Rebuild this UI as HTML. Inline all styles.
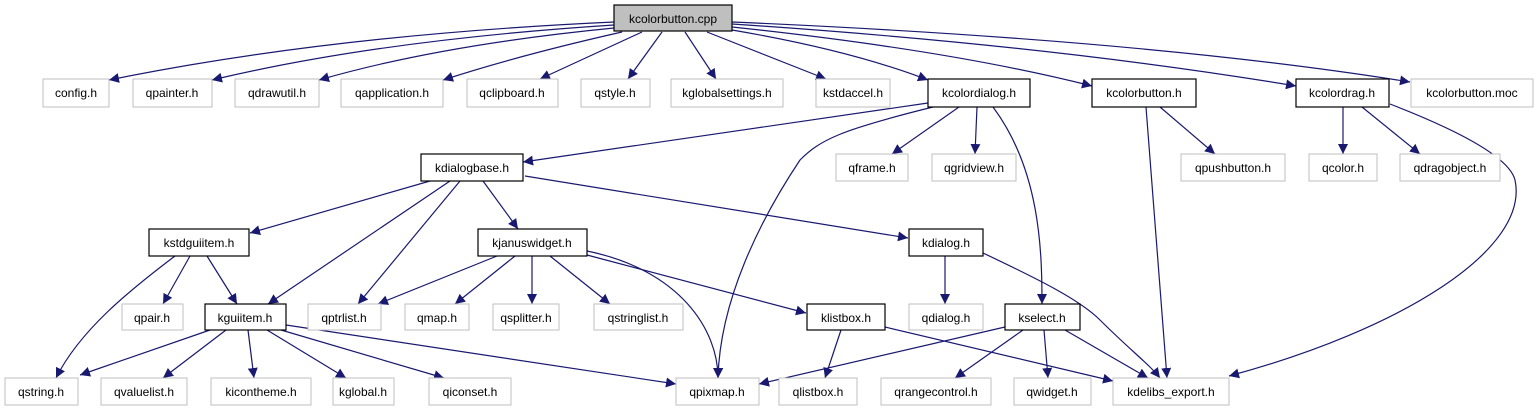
<!DOCTYPE html>
<html><head><meta charset="utf-8"><style>
html,body{margin:0;padding:0;background:#fff;}
svg text{font-family:"Liberation Sans",sans-serif;font-size:12px;fill:#000;}
</style></head><body>
<svg width="1537" height="411" viewBox="0 0 1537 411" xmlns="http://www.w3.org/2000/svg">
<defs>
<marker id="a" viewBox="0 0 10 10" refX="10" refY="5" markerWidth="10" markerHeight="10" markerUnits="userSpaceOnUse" orient="auto">
<path d="M0,0 L10,5 L0,10 z" fill="#191970"/>
</marker>
</defs>
<g fill="none" stroke="#191970" stroke-width="1.2" marker-end="url(#a)">
<path d="M614,22 Q330,35 109,80"/>
<path d="M614,25 Q380,40 212,80"/>
<path d="M614,28 Q440,45 319,80"/>
<path d="M622,32 Q520,55 443,80"/>
<path d="M642,32 L540,79"/>
<path d="M662,32 L628,79"/>
<path d="M685,32 L716,79"/>
<path d="M707,32 L826,79"/>
<path d="M732,30 Q850,50 928,80"/>
<path d="M732,27 Q950,50 1092,86"/>
<path d="M732,24 Q1050,45 1296,86"/>
<path d="M732,22 Q1150,40 1410,82"/>
<path d="M928,103 L523,162"/>
<path d="M933,107 C840,130 820,140 800,160 C760,220 720,300 718,378"/>
<path d="M959,107 L892,154"/>
<path d="M977,107 L975,154"/>
<path d="M993,107 C1040,170 1042,250 1042,304"/>
<path d="M1160,107 L1215,154"/>
<path d="M1146,107 L1167,378"/>
<path d="M1343,107 L1343,154"/>
<path d="M1362,107 L1420,154"/>
<path d="M1390,104 C1470,135 1510,160 1515,180 C1530,250 1400,330 1229,376"/>
<path d="M430,181 L250,233"/>
<path d="M450,181 L268,304"/>
<path d="M460,181 L358,304"/>
<path d="M483,181 L518,229"/>
<path d="M525,176 L908,238"/>
<path d="M175,256 C130,290 80,330 56,378"/>
<path d="M190,256 L163,304"/>
<path d="M207,256 L237,304"/>
<path d="M497,256 L378,304"/>
<path d="M515,256 L455,304"/>
<path d="M532,256 L532,304"/>
<path d="M550,256 L610,304"/>
<path d="M587,251 C680,270 718,330 718,378"/>
<path d="M587,255 L806,313"/>
<path d="M945,256 L945,304"/>
<path d="M983,253 C1040,280 1080,300 1100,320 C1130,350 1150,365 1160,378"/>
<path d="M210,330 L80,375"/>
<path d="M226,330 L163,378"/>
<path d="M248,330 L254,378"/>
<path d="M267,330 L346,378"/>
<path d="M281,330 L444,378"/>
<path d="M286,325 L676,384"/>
<path d="M841,330 L825,378"/>
<path d="M885,327 L1113,381"/>
<path d="M1005,327 L759,384"/>
<path d="M1023,330 L955,378"/>
<path d="M1044,330 L1048,378"/>
<path d="M1065,330 L1148,378"/>
</g>
<g stroke="#bfbfbf" stroke-width="1" fill="#fff">
<rect x="43" y="79" width="66" height="28"/>
<rect x="133" y="79" width="79" height="28"/>
<rect x="235" y="79" width="84" height="28"/>
<rect x="341" y="79" width="102" height="28"/>
<rect x="467" y="79" width="91" height="28"/>
<rect x="581" y="79" width="69" height="28"/>
<rect x="671" y="79" width="112" height="28"/>
<rect x="816" y="79" width="74" height="28"/>
<rect x="1411" y="79" width="122" height="28"/>
<rect x="836" y="154" width="72" height="27"/>
<rect x="932" y="154" width="84" height="27"/>
<rect x="1181" y="154" width="104" height="27"/>
<rect x="1309" y="154" width="68" height="27"/>
<rect x="1400" y="154" width="100" height="27"/>
<rect x="122" y="304" width="61" height="26"/>
<rect x="308" y="304" width="73" height="26"/>
<rect x="405" y="304" width="64" height="26"/>
<rect x="493" y="304" width="66" height="26"/>
<rect x="594" y="304" width="89" height="26"/>
<rect x="909" y="304" width="74" height="26"/>
<rect x="5" y="378" width="73" height="27"/>
<rect x="101" y="378" width="86" height="27"/>
<rect x="211" y="378" width="100" height="27"/>
<rect x="333" y="378" width="61" height="27"/>
<rect x="429" y="378" width="82" height="27"/>
<rect x="676" y="378" width="83" height="27"/>
<rect x="779" y="378" width="78" height="27"/>
<rect x="881" y="378" width="110" height="27"/>
<rect x="1014" y="378" width="77" height="27"/>
<rect x="1113" y="378" width="116" height="27"/>
</g>
<g stroke="#000" stroke-width="1.2" fill="#fff">
<rect x="614" y="5" width="118" height="26" fill="#bfbfbf"/>
<rect x="928" y="79" width="102" height="28"/>
<rect x="1092" y="79" width="104" height="28"/>
<rect x="1296" y="79" width="93" height="28"/>
<rect x="421" y="154" width="102" height="27"/>
<rect x="149" y="229" width="100" height="27"/>
<rect x="478" y="229" width="109" height="27"/>
<rect x="909" y="229" width="74" height="27"/>
<rect x="205" y="304" width="81" height="26"/>
<rect x="807" y="304" width="78" height="26"/>
<rect x="1005" y="304" width="75" height="26"/>
</g>
<g text-anchor="middle">
<text x="673" y="23">kcolorbutton.cpp</text>
<text x="76" y="97">config.h</text>
<text x="172" y="97">qpainter.h</text>
<text x="277" y="97">qdrawutil.h</text>
<text x="392" y="97">qapplication.h</text>
<text x="512" y="97">qclipboard.h</text>
<text x="615" y="97">qstyle.h</text>
<text x="727" y="97">kglobalsettings.h</text>
<text x="853" y="97">kstdaccel.h</text>
<text x="979" y="97">kcolordialog.h</text>
<text x="1144" y="97">kcolorbutton.h</text>
<text x="1342" y="97">kcolordrag.h</text>
<text x="1472" y="97">kcolorbutton.moc</text>
<text x="472" y="172">kdialogbase.h</text>
<text x="872" y="172">qframe.h</text>
<text x="974" y="172">qgridview.h</text>
<text x="1233" y="172">qpushbutton.h</text>
<text x="1343" y="172">qcolor.h</text>
<text x="1450" y="172">qdragobject.h</text>
<text x="199" y="247">kstdguiitem.h</text>
<text x="532" y="247">kjanuswidget.h</text>
<text x="946" y="247">kdialog.h</text>
<text x="152" y="322">qpair.h</text>
<text x="245" y="322">kguiitem.h</text>
<text x="344" y="322">qptrlist.h</text>
<text x="437" y="322">qmap.h</text>
<text x="526" y="322">qsplitter.h</text>
<text x="638" y="322">qstringlist.h</text>
<text x="846" y="322">klistbox.h</text>
<text x="946" y="322">qdialog.h</text>
<text x="1042" y="322">kselect.h</text>
<text x="41" y="396">qstring.h</text>
<text x="144" y="396">qvaluelist.h</text>
<text x="261" y="396">kicontheme.h</text>
<text x="363" y="396">kglobal.h</text>
<text x="470" y="396">qiconset.h</text>
<text x="717" y="396">qpixmap.h</text>
<text x="818" y="396">qlistbox.h</text>
<text x="936" y="396">qrangecontrol.h</text>
<text x="1052" y="396">qwidget.h</text>
<text x="1171" y="396">kdelibs_export.h</text>
</g>
</svg>
</body></html>
